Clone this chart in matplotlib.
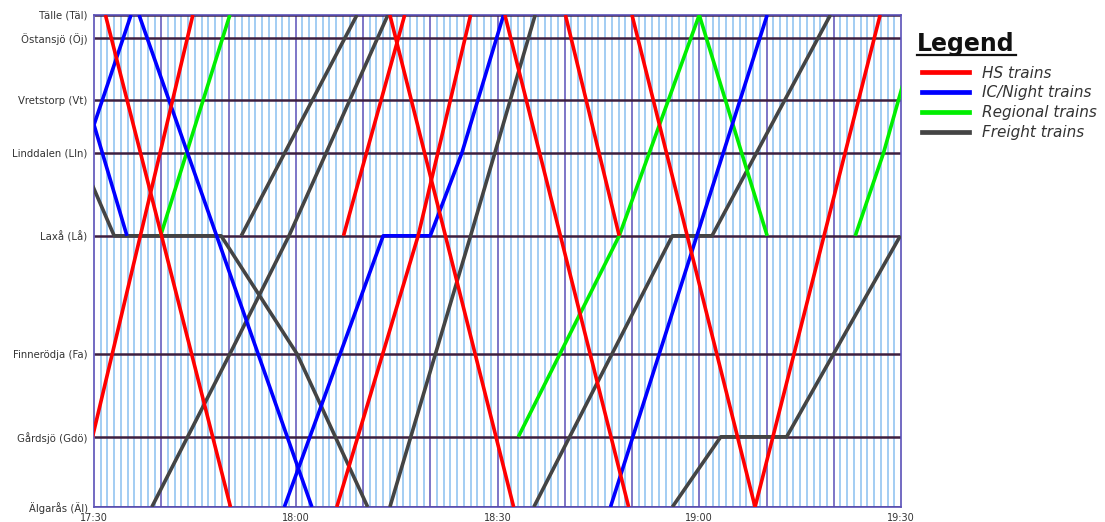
import matplotlib
matplotlib.use("Agg")
import matplotlib.pyplot as plt
from matplotlib.lines import Line2D

# ---------------- data ----------------
station_labels = ["Tälle (Täl)", "Östansjö (Öj)", "Vretstorp (Vt)", "Linddalen (Lln)",
                  "Laxå (Lå)", "Finnerödja (Fa)", "Gårdsjö (Gdö)", "Älgarås (Äl)"]
station_codes = ["Täl", "Öj", "Vt", "Lln", "Lå", "Fa", "Gdö", "Äl"]
station_km = [82.0, 78.2, 67.8, 59.0, 45.2, 25.5, 11.7, 0.0]

time_ticks = [0, 30, 60, 90, 120]          # minutes after 17:30
time_labels = ["17:30", "18:00", "18:30", "19:00", "19:30"]

# each train: list of (minutes after 17:30, station code or km)
hs_trains = [
    [(1.7, "Täl"), (20.3, "Äl")],
    [(-2.7, "Äl"), (14.7, "Täl")],
    [(37.1, "Lå"), (46.2, "Täl")],
    [(44.0, "Täl"), (62.4, "Äl")],
    [(36.1, "Äl"), (48.2, "Lå"), (56.0, "Täl")],
    [(61.1, "Täl"), (79.5, "Äl")],
    [(70.1, "Täl"), (78.1, "Lå")],
    [(80.0, "Täl"), (98.3, "Äl")],
    [(98.3, "Äl"), (116.9, "Täl")],
]
ic_trains = [
    [(0.0, 63.7), (5.5, "Täl")],
    [(0.0, 63.7), (4.9, "Lå")],
    [(6.7, "Täl"), (32.4, "Äl")],
    [(28.3, "Äl"), (43.0, "Lå"), (50.0, "Lå"), (54.7, "Lln"), (60.9, "Täl")],
    [(76.8, "Äl"), (100.1, "Täl")],
]
regional_trains = [
    [(9.9, "Lå"), (20.2, "Täl")],
    [(63.1, "Gdö"), (78.1, "Lå"), (90.0, "Täl")],
    [(90.0, "Täl"), (100.1, "Lå")],
    [(113.2, "Lå"), (117.4, "Lln"), (123.2, "Täl")],
]
freight_trains = [
    [(-2.3, "Lln"), (3.0, "Lå"), (18.9, "Lå"), (30.2, "Fa"), (40.7, "Äl")],
    [(8.6, "Äl"), (20.2, "Fa"), (29.0, "Lå"), (43.7, "Täl")],
    [(21.9, "Lå"), (39.1, "Täl")],
    [(44.0, "Äl"), (56.0, "Lå"), (65.6, "Täl")],
    [(65.4, "Äl"), (86.0, "Lå"), (91.9, "Lå"), (109.5, "Täl")],
    [(86.0, "Äl"), (93.2, "Gdö"), (103.0, "Gdö"), (119.9, "Lå")],
]

categories = ["HS trains", "IC/Night trains", "Regional trains", "Freight trains"]
colors = ["#ff0000", "#0000ff", "#00ee00", "#444444"]

# ---------------- figure ----------------
fig = plt.figure(figsize=(11.05, 5.22), dpi=100)
ax = fig.add_axes([94 / 1105, 1 - 507 / 522, (901 - 94) / 1105, (507 - 15) / 522])

km_of = dict(zip(station_codes, station_km))

def pos(v):
    return km_of[v] if isinstance(v, str) else v

# grid: minute lines and 10-minute lines
minor = [m for m in range(1, 120) if m % 10 != 0]
major = [m for m in range(10, 120, 10)]
ax.vlines(minor, 0, station_km[0], colors="#a3cdf3", lw=1.4, zorder=1)
ax.vlines(major, 0, station_km[0], colors="#5a50b8", lw=1.1, zorder=2)
ax.hlines(station_km, 0, 120, colors="#3e2040", lw=1.8, zorder=3)

groups = [hs_trains, ic_trains, regional_trains, freight_trains]
for z, (trains, col) in zip([8, 7, 6, 5], zip(groups, colors)):
    for tr in trains:
        xs = [p[0] for p in tr]
        ys = [pos(p[1]) for p in tr]
        ax.plot(xs, ys, color=col, lw=2.6, solid_capstyle="butt",
                solid_joinstyle="round", zorder=z)

ax.set_xlim(0, 120)
ax.set_ylim(0, station_km[0])
ax.set_xticks(time_ticks)
ax.set_xticklabels(time_labels)
ax.set_yticks(station_km)
ax.set_yticklabels(station_labels)
ax.tick_params(axis="both", length=0, colors="#333333")
ax.tick_params(axis="y", labelsize=7.3, pad=4.5)
ax.tick_params(axis="x", labelsize=7, pad=4)
for s in ax.spines.values():
    s.set_color("#5a50b8")
    s.set_linewidth(1.2)
    s.set_zorder(4)

# legend
fig.text(917 / 1105, 1 - 51 / 522, "Legend", fontsize=17, fontweight="bold",
         color="#111111", ha="left", va="baseline")
fig.add_artist(Line2D([917 / 1105, 1016 / 1105], [1 - 55 / 522, 1 - 55 / 522],
                      color="#111111", lw=1.6, transform=fig.transFigure))
handles = [Line2D([], [], color=c, lw=3.4) for c in colors]
leg = fig.legend(handles, categories, loc="upper left",
                 bbox_to_anchor=(922 / 1105, 1 - 65.5 / 522),
                 frameon=False, borderpad=0, borderaxespad=0,
                 handlelength=3.1, handletextpad=0.8, labelspacing=0.32,
                 prop={"size": 11, "style": "italic"})
for t in leg.get_texts():
    t.set_color("#333333")

fig.savefig("out.png", dpi=100)
